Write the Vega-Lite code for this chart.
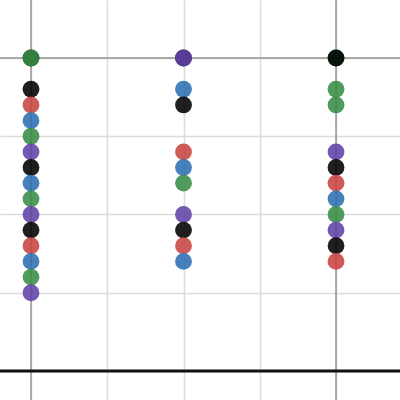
{
  "$schema": "https://vega.github.io/schema/vega-lite/v6.json",
  "width": 400,
  "height": 400,
  "padding": 0,
  "autosize": {"type": "none"},
  "config": {"view": {"stroke": null}},
  "datasets": {
    "pts": [
      {"x": 0, "y": 4.0, "c": "black"},
      {"x": 0, "y": 4.0, "c": "green"},
      {"x": 0, "y": 3.6, "c": "black"},
      {"x": 0, "y": 3.4, "c": "red"},
      {"x": 0, "y": 3.2, "c": "blue"},
      {"x": 0, "y": 3.0, "c": "green"},
      {"x": 0, "y": 2.8, "c": "purple"},
      {"x": 0, "y": 2.6, "c": "black"},
      {"x": 0, "y": 2.4, "c": "blue"},
      {"x": 0, "y": 2.2, "c": "green"},
      {"x": 0, "y": 2.0, "c": "purple"},
      {"x": 0, "y": 1.8, "c": "black"},
      {"x": 0, "y": 1.6, "c": "red"},
      {"x": 0, "y": 1.4, "c": "blue"},
      {"x": 0, "y": 1.2, "c": "green"},
      {"x": 0, "y": 1.0, "c": "purple"},
      {"x": 2, "y": 4.0, "c": "black"},
      {"x": 2, "y": 4.0, "c": "purple"},
      {"x": 2, "y": 3.6, "c": "blue"},
      {"x": 2, "y": 3.4, "c": "black"},
      {"x": 2, "y": 2.8, "c": "red"},
      {"x": 2, "y": 2.6, "c": "blue"},
      {"x": 2, "y": 2.4, "c": "green"},
      {"x": 2, "y": 2.0, "c": "purple"},
      {"x": 2, "y": 1.8, "c": "black"},
      {"x": 2, "y": 1.6, "c": "red"},
      {"x": 2, "y": 1.4, "c": "blue"},
      {"x": 4, "y": 4.0, "c": "green"},
      {"x": 4, "y": 4.0, "c": "black"},
      {"x": 4, "y": 3.6, "c": "green"},
      {"x": 4, "y": 3.4, "c": "green"},
      {"x": 4, "y": 2.8, "c": "purple"},
      {"x": 4, "y": 2.6, "c": "black"},
      {"x": 4, "y": 2.4, "c": "red"},
      {"x": 4, "y": 2.2, "c": "blue"},
      {"x": 4, "y": 2.0, "c": "green"},
      {"x": 4, "y": 1.8, "c": "purple"},
      {"x": 4, "y": 1.6, "c": "black"},
      {"x": 4, "y": 1.4, "c": "red"}
    ],
    "vlines": [{"x": 0}, {"x": 4}],
    "hlines": [{"y": 4}]
  },
  "layer": [
    {
      "data": {"name": "pts"},
      "mark": {"type": "point", "opacity": 0},
      "encoding": {
        "x": {"field": "x", "type": "quantitative",
              "scale": {"domain": [-0.4066, 4.839], "nice": false, "zero": false},
              "axis": {"values": [0, 1, 2, 3, 4], "labels": false, "ticks": false, "domain": false, "title": null, "grid": true, "gridColor": "#dcdcdc", "gridWidth": 1.5, "gridOpacity": 1}},
        "y": {"field": "y", "type": "quantitative",
              "scale": {"domain": [-0.371, 4.741], "nice": false, "zero": false},
              "axis": {"values": [0, 1, 2, 3, 4], "labels": false, "ticks": false, "domain": false, "title": null, "grid": true, "gridColor": "#dcdcdc", "gridWidth": 1.5, "gridOpacity": 1}}
      }
    },
    {
      "data": {"name": "vlines"},
      "mark": {"type": "rule", "color": "#959595", "strokeWidth": 1.5},
      "encoding": {"x": {"field": "x", "type": "quantitative"}}
    },
    {
      "data": {"name": "hlines"},
      "mark": {"type": "rule", "color": "#959595", "strokeWidth": 1.5},
      "encoding": {"y": {"field": "y", "type": "quantitative"}}
    },
    {
      "data": {"values": [{"y": 0}]},
      "mark": {"type": "rule", "color": "#111111", "strokeWidth": 3},
      "encoding": {"y": {"field": "y", "type": "quantitative"}}
    },
    {
      "data": {"name": "pts"},
      "mark": {"type": "circle", "size": 283, "opacity": 0.88},
      "encoding": {
        "x": {"field": "x", "type": "quantitative"},
        "y": {"field": "y", "type": "quantitative"},
        "color": {"field": "c", "type": "nominal", "legend": null,
                  "scale": {"domain": ["red", "blue", "green", "purple", "black"],
                            "range": ["#c74440", "#2d70b3", "#388c46", "#6042a6", "#000000"]}}
      }
    }
  ]
}
